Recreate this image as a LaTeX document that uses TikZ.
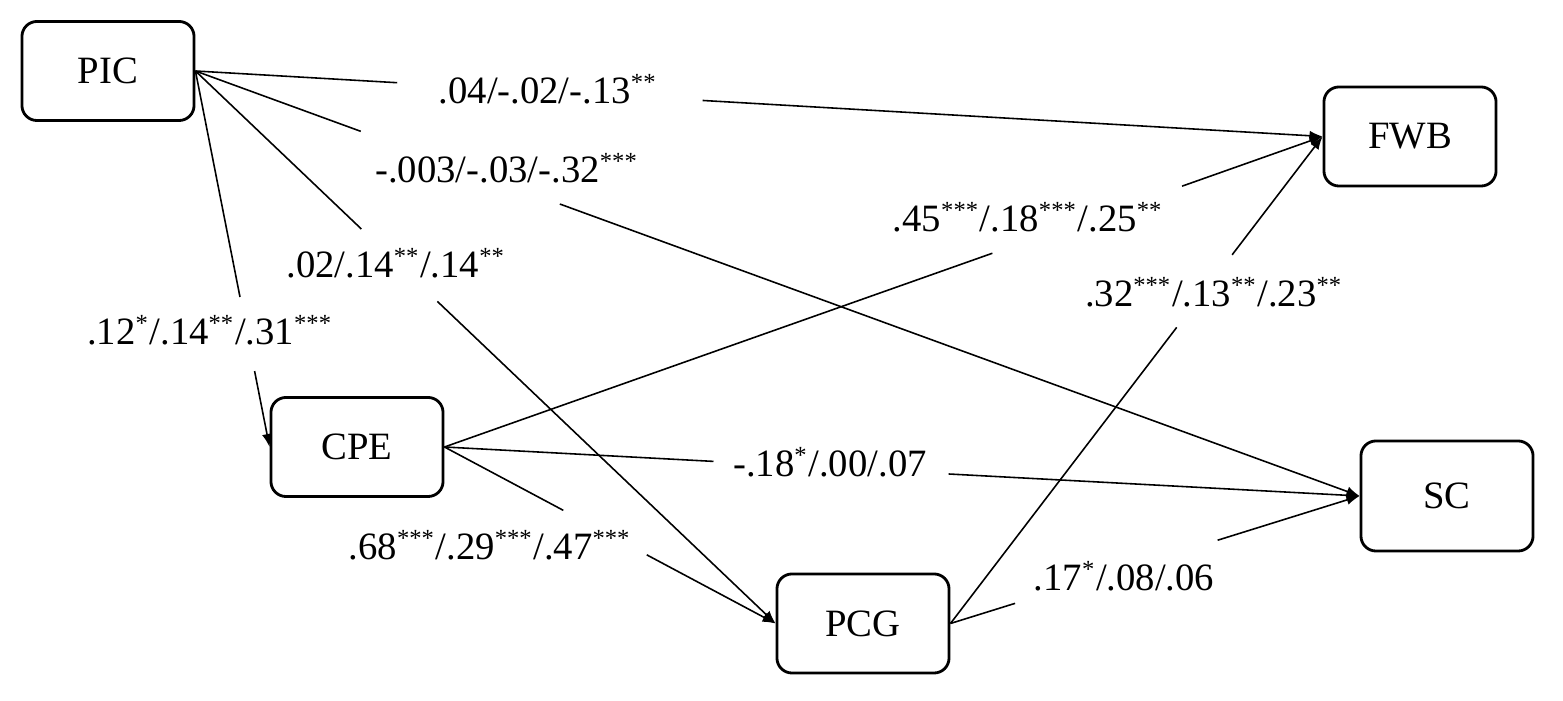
\documentclass[tikz,border=0pt]{standalone}
\usepackage{fontspec}
\setmainfont{Liberation Serif}
\usetikzlibrary{calc, arrows.meta}

\newcommand{\sig}[1]{\textsuperscript{\fontsize{7}{8}\selectfont #1}}

\begin{document}
\begin{tikzpicture}[x=0.01cm, y=-0.01cm, line width=0.45pt,
    >={Latex[length=1.3mm, width=1mm]},
    var/.style={draw, line width=0.8pt, rounded corners=0.15cm, minimum width=1.72cm,
        minimum height=0.99cm, inner sep=0pt, font=\fontsize{11}{13}\selectfont},
    coef/.style={anchor=base, inner sep=0pt, font=\fontsize{11}{13}\selectfont}]
    \useasboundingbox (0, 0) rectangle (1563, 701);

    \node[var] (pic) at (108, 71) {PIC};
    \node[var] (fwb) at (1410, 136.5) {FWB};
    \node[var] (cpe) at (357, 447) {CPE};
    \node[var, minimum height=1.10cm] (sc) at (1447, 496) {SC};
    \node[var] (pcg) at (863, 623.5) {PCG};

    \node[coef] (c1) at (548, 104) {.04/-.02/-.13\sig{**}};
    \node[coef] (c2) at (507, 183) {-.003/-.03/-.32\sig{***}};
    \node[coef] (c3) at (396, 278) {.02/.14\sig{**}/.14\sig{**}};
    \node[coef] (c4) at (210, 345) {.12\sig{*}/.14\sig{**}/.31\sig{***}};
    \node[coef] (c5) at (1028, 232) {.45\sig{***}/.18\sig{***}/.25\sig{**}};
    \node[coef] (c6) at (830, 477) {-.18\sig{*}/.00/.07};
    \node[coef] (c7) at (490, 560) {.68\sig{***}/.29\sig{***}/.47\sig{***}};
    \node[coef] (c8) at (1214, 307) {.32\sig{***}/.13\sig{**}/.23\sig{**}};
    \node[coef] (c9) at (1124, 591) {.17\sig{*}/.08/.06};

    % ends of the gaps left for the labels
    \coordinate (g1a) at ($(pic.east)!0.179!(fwb.west)$);
    \coordinate (g1b) at ($(pic.east)!0.450!(fwb.west)$);
    \coordinate (g2a) at ($(pic.east)!0.142!(sc.west)$);
    \coordinate (g2b) at ($(pic.east)!0.313!(sc.west)$);
    \coordinate (g3a) at ($(pic.east)!0.286!(pcg.west)$);
    \coordinate (g3b) at ($(pic.east)!0.417!(pcg.west)$);
    \coordinate (g4a) at ($(pic.east)!0.601!(cpe.west)$);
    \coordinate (g4b) at ($(pic.east)!0.798!(cpe.west)$);
    \coordinate (g5a) at ($(cpe.east)!0.624!(fwb.west)$);
    \coordinate (g5b) at ($(cpe.east)!0.840!(fwb.west)$);
    \coordinate (g6a) at ($(cpe.east)!0.294!(sc.west)$);
    \coordinate (g6b) at ($(cpe.east)!0.551!(sc.west)$);
    \coordinate (g7a) at ($(cpe.east)!0.359!(pcg.west)$);
    \coordinate (g7b) at ($(cpe.east)!0.611!(pcg.west)$);
    \coordinate (g8a) at ($(pcg.east)!0.608!(fwb.west)$);
    \coordinate (g8b) at ($(pcg.east)!0.757!(fwb.west)$);
    \coordinate (g9a) at ($(pcg.east)!0.158!(sc.west)$);
    \coordinate (g9b) at ($(pcg.east)!0.653!(sc.west)$);

    \draw
    (pic.east) edge (g1a) (g1b) edge[->] (fwb.west)
    (pic.east) edge (g2a) (g2b) edge[->] (sc.west)
    (pic.east) edge (g3a) (g3b) edge[->] (pcg.west)
    (pic.east) edge (g4a) (g4b) edge[->] (cpe.west)
    (cpe.east) edge (g5a) (g5b) edge[->] (fwb.west)
    (cpe.east) edge (g6a) (g6b) edge[->] (sc.west)
    (cpe.east) edge (g7a) (g7b) edge[->] (pcg.west)
    (pcg.east) edge (g8a) (g8b) edge[->] (fwb.west)
    (pcg.east) edge (g9a) (g9b) edge[->] (sc.west);
\end{tikzpicture}
\end{document}
